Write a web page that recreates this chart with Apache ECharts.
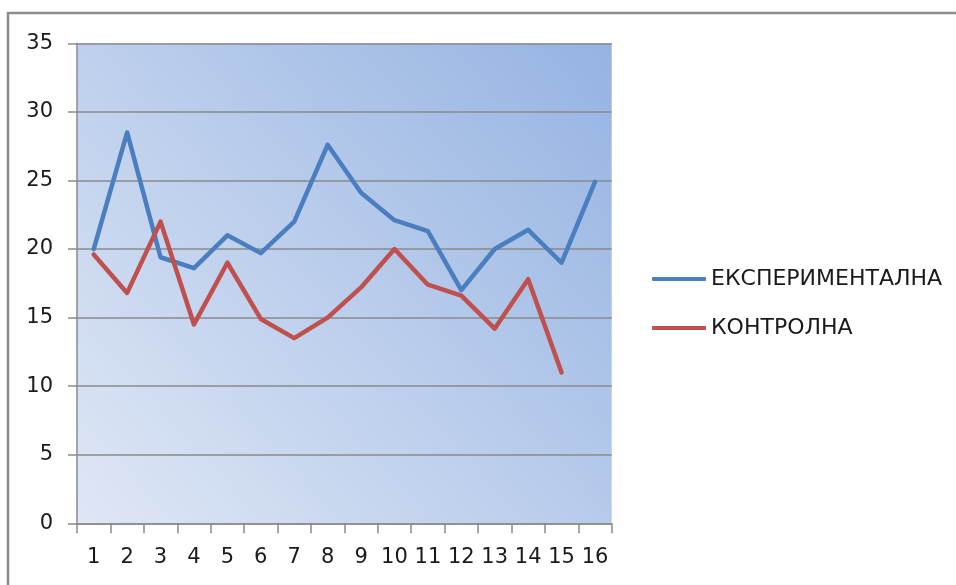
<!DOCTYPE html>
<html>
<head>
<meta charset="utf-8">
<script src="https://cdn.jsdelivr.net/npm/echarts@6/dist/echarts.min.js"></script>
<style>
  html, body { margin: 0; padding: 0; background: #ffffff; }
  #chart { width: 956px; height: 585px; }
</style>
</head>
<body>
<div id="chart"></div>
<script>
// Group scores for each of the 16 items
const categories = ['1', '2', '3', '4', '5', '6', '7', '8', '9', '10', '11', '12', '13', '14', '15', '16'];
const seriesNames = ['ЕКСПЕРИМЕНТАЛНА', 'КОНТРОЛНА'];
const experimental = [20, 28.5, 19.4, 18.6, 21, 19.7, 22, 27.6, 24.1, 22.1, 21.3, 17, 20, 21.4, 19, 24.9];
const control = [19.6, 16.8, 22, 14.5, 19, 14.9, 13.5, 15, 17.2, 20, 17.4, 16.6, 14.2, 17.8, 11, null];

const FONT = '"DejaVu Sans", sans-serif';
const GRID_GRAY = '#8a8a8a';

const chart = echarts.init(document.getElementById('chart'), null, { renderer: 'canvas' });

chart.setOption({
  backgroundColor: '#ffffff',
  animation: false,
  graphic: [{
    type: 'rect',
    shape: { x: 8, y: 13, width: 1000, height: 620 },
    style: { fill: 'none', stroke: '#8c8c8c', lineWidth: 2.5 },
    z: 100
  }],
  grid: {
    left: 77,
    right: 344.3,
    top: 43.3,
    bottom: 61.7,
    show: true,
    borderWidth: 0,
    backgroundColor: {
      type: 'linear', x: 0, y: 1, x2: 1, y2: 0,
      colorStops: [
        { offset: 0, color: '#dfe7f5' },
        { offset: 1, color: '#95b3e2' }
      ]
    }
  },
  legend: {
    orient: 'vertical',
    left: 652,
    top: 268,
    padding: 0,
    itemWidth: 54,
    itemHeight: 4,
    itemGap: 27,
    icon: 'roundRect',
    data: seriesNames,
    textStyle: { fontFamily: FONT, fontSize: 22, color: '#1a1a1a' }
  },
  xAxis: {
    type: 'category',
    data: categories,
    boundaryGap: true,
    axisLine: { show: true, lineStyle: { color: GRID_GRAY, width: 1.5 } },
    axisTick: { show: true, length: 10, lineStyle: { color: GRID_GRAY, width: 1.5 } },
    axisLabel: { margin: 24, fontFamily: FONT, fontSize: 21, color: '#1a1a1a', interval: 0 },
    splitLine: { show: false }
  },
  yAxis: {
    type: 'value',
    min: 0,
    max: 35,
    interval: 5,
    axisLine: { show: true, lineStyle: { color: GRID_GRAY, width: 1.5 } },
    axisTick: { show: true, length: 9, lineStyle: { color: GRID_GRAY, width: 1.5 } },
    axisLabel: { margin: 24, fontFamily: FONT, fontSize: 21, color: '#1a1a1a' },
    splitLine: { show: true, lineStyle: { color: GRID_GRAY, width: 1.5 } }
  },
  series: [
    {
      name: seriesNames[0],
      type: 'line',
      data: experimental,
      showSymbol: false,
      symbol: 'none',
      color: '#4a7ebf',
      lineStyle: { width: 4.5, color: '#4a7ebf', cap: 'round', join: 'round' }
    },
    {
      name: seriesNames[1],
      type: 'line',
      data: control,
      showSymbol: false,
      symbol: 'none',
      color: '#c0504d',
      lineStyle: { width: 4.5, color: '#c0504d', cap: 'round', join: 'round' }
    }
  ]
});
</script>
</body>
</html>
